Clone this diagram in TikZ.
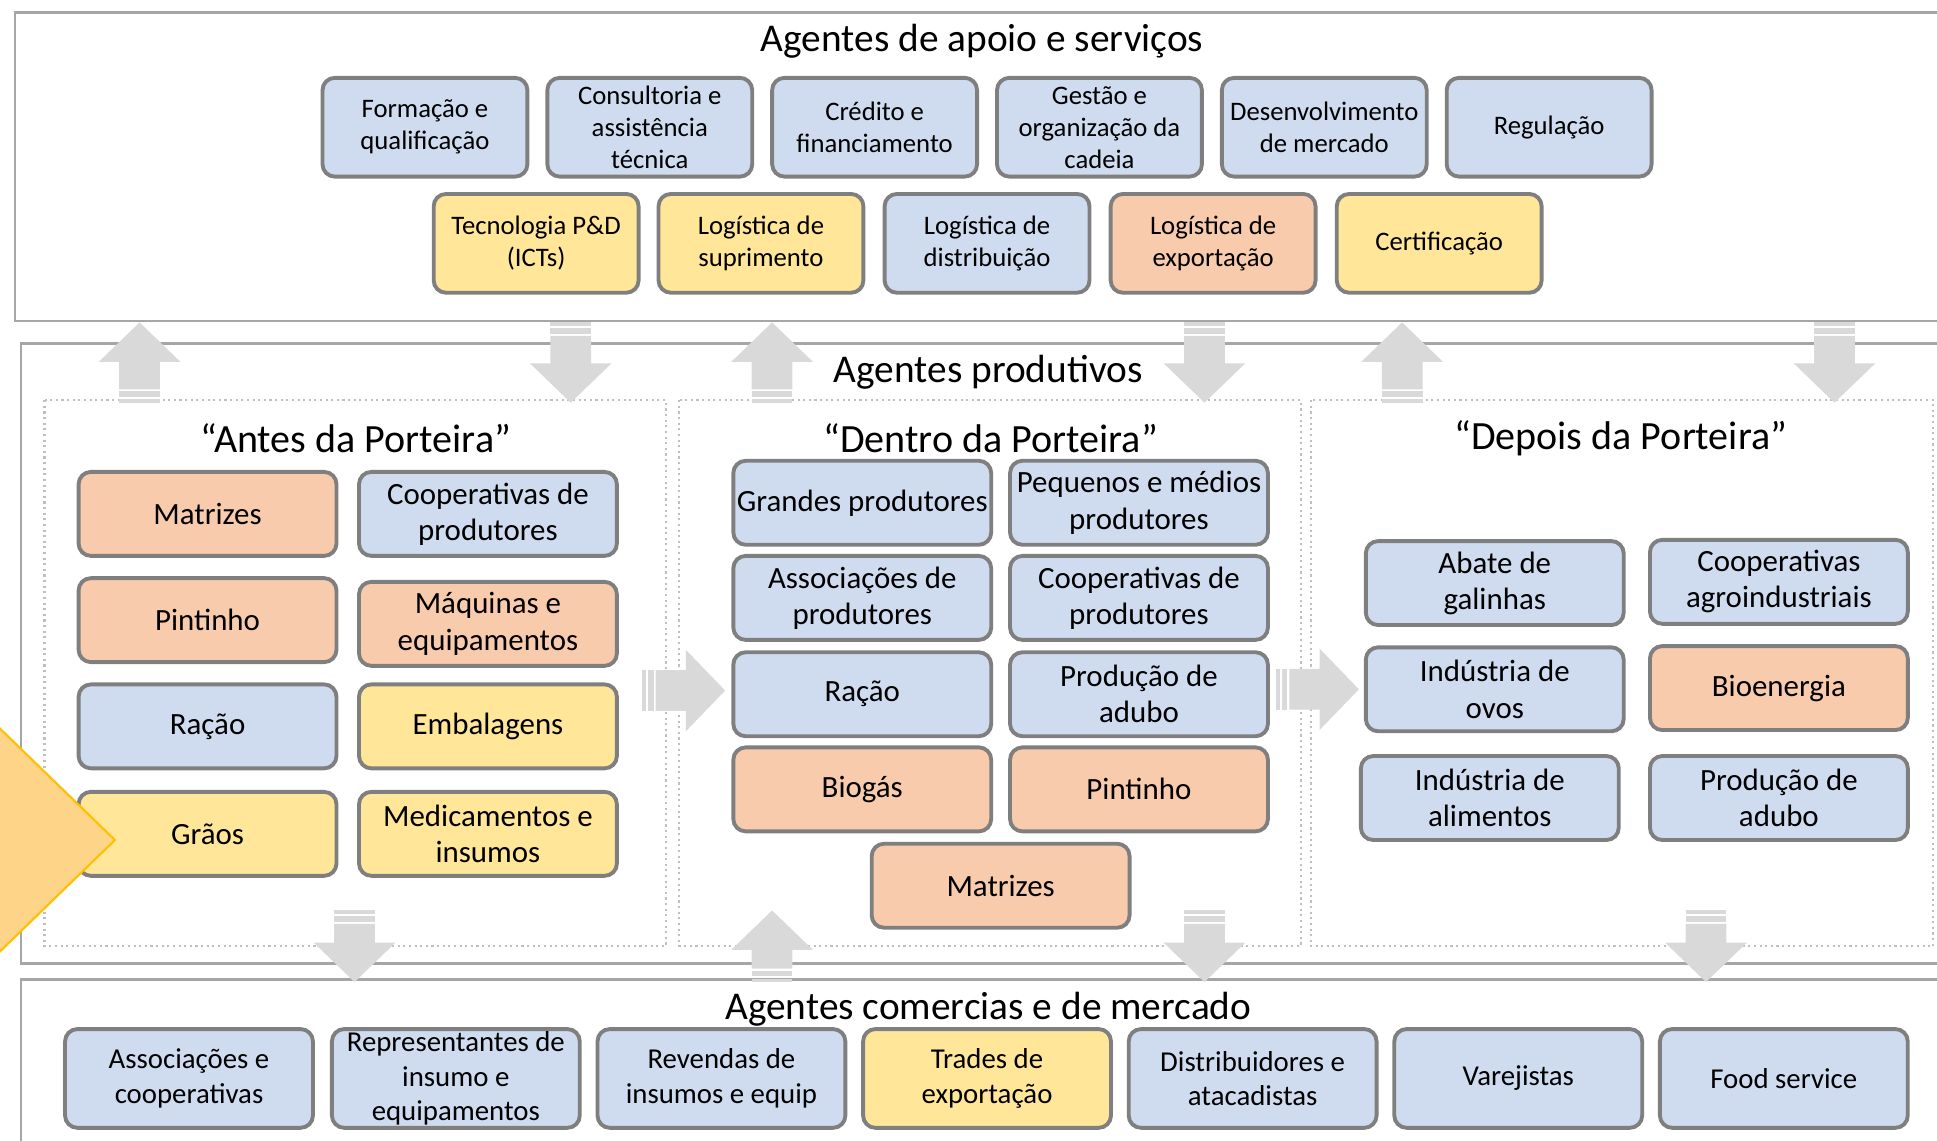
\documentclass[tikz,border=0pt]{standalone}
\usepackage{fontspec}
\setmainfont{Carlito}
\usetikzlibrary{calc}
\definecolor{boxblue}{HTML}{CFDBEE}
\definecolor{boxorange}{HTML}{F8CBAD}
\definecolor{boxyellow}{HTML}{FFE699}
\definecolor{boxline}{HTML}{7F7F7F}
\definecolor{frameline}{HTML}{A6A6A6}
\definecolor{dotline}{HTML}{BFBFBF}
\definecolor{arrowgray}{HTML}{D9D9D9}
\definecolor{chevfill}{HTML}{FDD488}
\definecolor{chevline}{HTML}{FFC000}

% striped block arrow from #1 (tail) to #2 (head)
\newcommand{\stripedarrow}[2]{%
  \path let \p1=($(#2)-(#1)$) in \pgfextra{%
    \pgfmathsetmacro{\arrang}{atan2(\y1,\x1)}%
    \pgfmathsetmacro{\arrlen}{veclen(\x1,\y1)}%
    \xdef\arrowang{\arrang}\xdef\arrowlen{\arrlen}};
  \begin{scope}[shift={(#1)}, rotate=\arrowang, x=1pt, y=1pt]
    \fill[arrowgray] (0,-5.8) rectangle (1,5.8);
    \fill[arrowgray] (1.6,-5.8) rectangle (3.2,5.8);
    \fill[arrowgray] (3.8,-5.8) -- (\arrowlen-11.2,-5.8) -- (\arrowlen-11.2,-11.6)
      -- (\arrowlen,0) -- (\arrowlen-11.2,11.6) -- (\arrowlen-11.2,5.8) -- (3.8,5.8) -- cycle;
  \end{scope}}

\begin{document}
\begin{tikzpicture}[x=0.012353cm, y=-0.012353cm,
    agent/.style={draw=boxline, line width=1.1pt, rounded corners=3.5pt, align=center, inner sep=0.5pt},
    topbox/.style={agent, minimum width=2.05cm, minimum height=0.988cm, font=\fontsize{7.6}{9.1}\selectfont},
    midbox/.style={agent, minimum width=2.58cm, minimum height=0.84cm, font=\fontsize{8.8}{10.3}\selectfont},
    lowbox/.style={agent, minimum width=2.48cm, minimum height=0.988cm, font=\fontsize{8.2}{9.8}\selectfont},
    fillblue/.style={fill=boxblue}, fillorange/.style={fill=boxorange}, fillyellow/.style={fill=boxyellow},
    frame/.style={draw=frameline, line width=0.7pt},
    dotbox/.style={draw=dotline, line width=0.6pt, densely dotted},
    heading/.style={font=\fontsize{11.2}{13}\selectfont},
    subhead/.style={font=\fontsize{11.4}{13}\selectfont}]
            \clip (0,0) rectangle (1568,923);
            % containers
            \draw[frame] (12,10) rectangle (1620,260);
            \draw[frame] (17,278) rectangle (1620,780);
            \draw[frame] (17,793) rectangle (1620,960);
            \draw[dotbox] (36,324) rectangle (539,766);
            \draw[dotbox] (550,324) rectangle (1053,766);
            \draw[dotbox] (1061,324) rectangle (1565,766);
            \node[heading] (tapoio) at (795,33) {Agentes de apoio e serviços};
            \node[heading] (tprod) at (800,301) {Agentes produtivos};
            \node[heading] (tcom) at (800,817) {Agentes comercias e de mercado};
            \node[subhead] (tantes) at (288,355) {“Antes da Porteira”};
            \node[subhead] (tdentro) at (802,355) {“Dentro da Porteira”};
            \node[subhead] (tdepois) at (1312,355) {“Depois da Porteira”};
            % apoio e servicos
            \node[topbox,fillblue] (form) at (344,103) {Formação e\\qualificação};
            \node[topbox,fillblue] (consult) at (526,103) {Consultoria e\\assistência\\técnica};
            \node[topbox,fillblue] (credito) at (708,103) {Crédito e\\financiamento};
            \node[topbox,fillblue] (gestao) at (890,103) {Gestão e\\organização da\\cadeia};
            \node[topbox,fillblue] (desenv) at (1072,103) {Desenvolvimento\\de mercado};
            \node[topbox,fillblue] (regul) at (1254,103) {Regulação};
            \node[topbox,fillyellow] (tecno) at (434,197) {Tecnologia P\&D\\(ICTs)};
            \node[topbox,fillyellow] (logsup) at (616,197) {Logística de\\suprimento};
            \node[topbox,fillblue] (logdist) at (799,197) {Logística de\\distribuição};
            \node[topbox,fillorange] (logexp) at (982,197) {Logística de\\exportação};
            \node[topbox,fillyellow] (certif) at (1165,197) {Certificação};
            % antes da porteira
            \node[midbox,fillorange] (amatriz) at (168,416) {Matrizes};
            \node[midbox,fillblue] (acoop) at (395,416) {Cooperativas de\\produtores};
            \node[midbox,fillorange] (apint) at (168,502) {Pintinho};
            \node[midbox,fillorange] (amaq) at (395,505) {Máquinas e\\equipamentos};
            \node[midbox,fillblue] (aracao) at (168,588) {Ração};
            \node[midbox,fillyellow] (aemb) at (395,588) {Embalagens};
            \node[midbox,fillyellow] (agraos) at (168,675) {Grãos};
            \node[midbox,fillyellow] (amedic) at (395,675) {Medicamentos e\\insumos};
            % dentro da porteira
            \node[midbox,fillblue] (dgrandes) at (698,407) {Grandes produtores};
            \node[midbox,fillblue] (dpeq) at (922,407) {Pequenos e médios\\produtores};
            \node[midbox,fillblue] (dassoc) at (698,484) {Associações de\\produtores};
            \node[midbox,fillblue] (dcoop) at (922,484) {Cooperativas de\\produtores};
            \node[midbox,fillblue] (dracao) at (698,562) {Ração};
            \node[midbox,fillblue] (dadubo) at (922,562) {Produção de\\adubo};
            \node[midbox,fillorange] (dbiogas) at (698,639) {Biogás};
            \node[midbox,fillorange] (dpint) at (922,639) {Pintinho};
            \node[midbox,fillorange] (dmatriz) at (810,717) {Matrizes};
            % depois da porteira
            \node[midbox,fillblue] (pabate) at (1210,472) {Abate de\\galinhas};
            \node[midbox,fillblue] (pcoop) at (1440,471) {Cooperativas\\agroindustriais};
            \node[midbox,fillblue] (povos) at (1210,558) {Indústria de\\ovos};
            \node[midbox,fillorange] (pbio) at (1440,557) {Bioenergia};
            \node[midbox,fillblue] (palim) at (1206,646) {Indústria de\\alimentos};
            \node[midbox,fillblue] (padubo) at (1440,646) {Produção de\\adubo};
            % comerciais e de mercado
            \node[lowbox,fillblue] (cassoc) at (153,873) {Associações e\\cooperativas};
            \node[lowbox,fillblue] (crepr) at (369,873) {Representantes de\\insumo e\\equipamentos};
            \node[lowbox,fillblue] (creven) at (584,873) {Revendas de\\insumos e equip};
            \node[lowbox,fillyellow] (ctrades) at (799,873) {Trades de\\exportação};
            \node[lowbox,fillblue] (cdistr) at (1014,873) {Distribuidores e\\atacadistas};
            \node[lowbox,fillblue] (cvarej) at (1229,873) {Varejistas};
            \node[lowbox,fillblue] (cfood) at (1444,873) {Food service};
            % chevron on the left edge
            \filldraw[fill=chevfill, draw=chevline, line width=0.6pt] (-40,551) -- (93,680) -- (-40,809) -- cycle;
            % arrow ends
            \coordinate (s1) at (113,261); \coordinate (p1) at (113,326);
            \coordinate (s2) at (462,261); \coordinate (p2) at (462,326);
            \coordinate (s3) at (625,261); \coordinate (p3) at (625,326);
            \coordinate (s4) at (975,261); \coordinate (p4) at (975,326);
            \coordinate (s5) at (1135,261); \coordinate (p5) at (1135,326);
            \coordinate (s6) at (1485,261); \coordinate (p6) at (1485,326);
            \coordinate (q1) at (287,737); \coordinate (m1) at (287,795);
            \coordinate (q2) at (625,737); \coordinate (m2) at (625,795);
            \coordinate (q3) at (975,737); \coordinate (m3) at (975,795);
            \coordinate (q4) at (1381,737); \coordinate (m4) at (1381,795);
            \coordinate (h1) at (520,559); \coordinate (k1) at (587,559);
            \coordinate (h2) at (1033,558); \coordinate (k2) at (1100,558);
            \stripedarrow{p1}{s1}
            \stripedarrow{s2}{p2}
            \stripedarrow{p3}{s3}
            \stripedarrow{s4}{p4}
            \stripedarrow{p5}{s5}
            \stripedarrow{s6}{p6}
            \stripedarrow{q1}{m1}
            \stripedarrow{m2}{q2}
            \stripedarrow{q3}{m3}
            \stripedarrow{q4}{m4}
            \stripedarrow{h1}{k1}
            \stripedarrow{h2}{k2}
        \end{tikzpicture}
\end{document}
